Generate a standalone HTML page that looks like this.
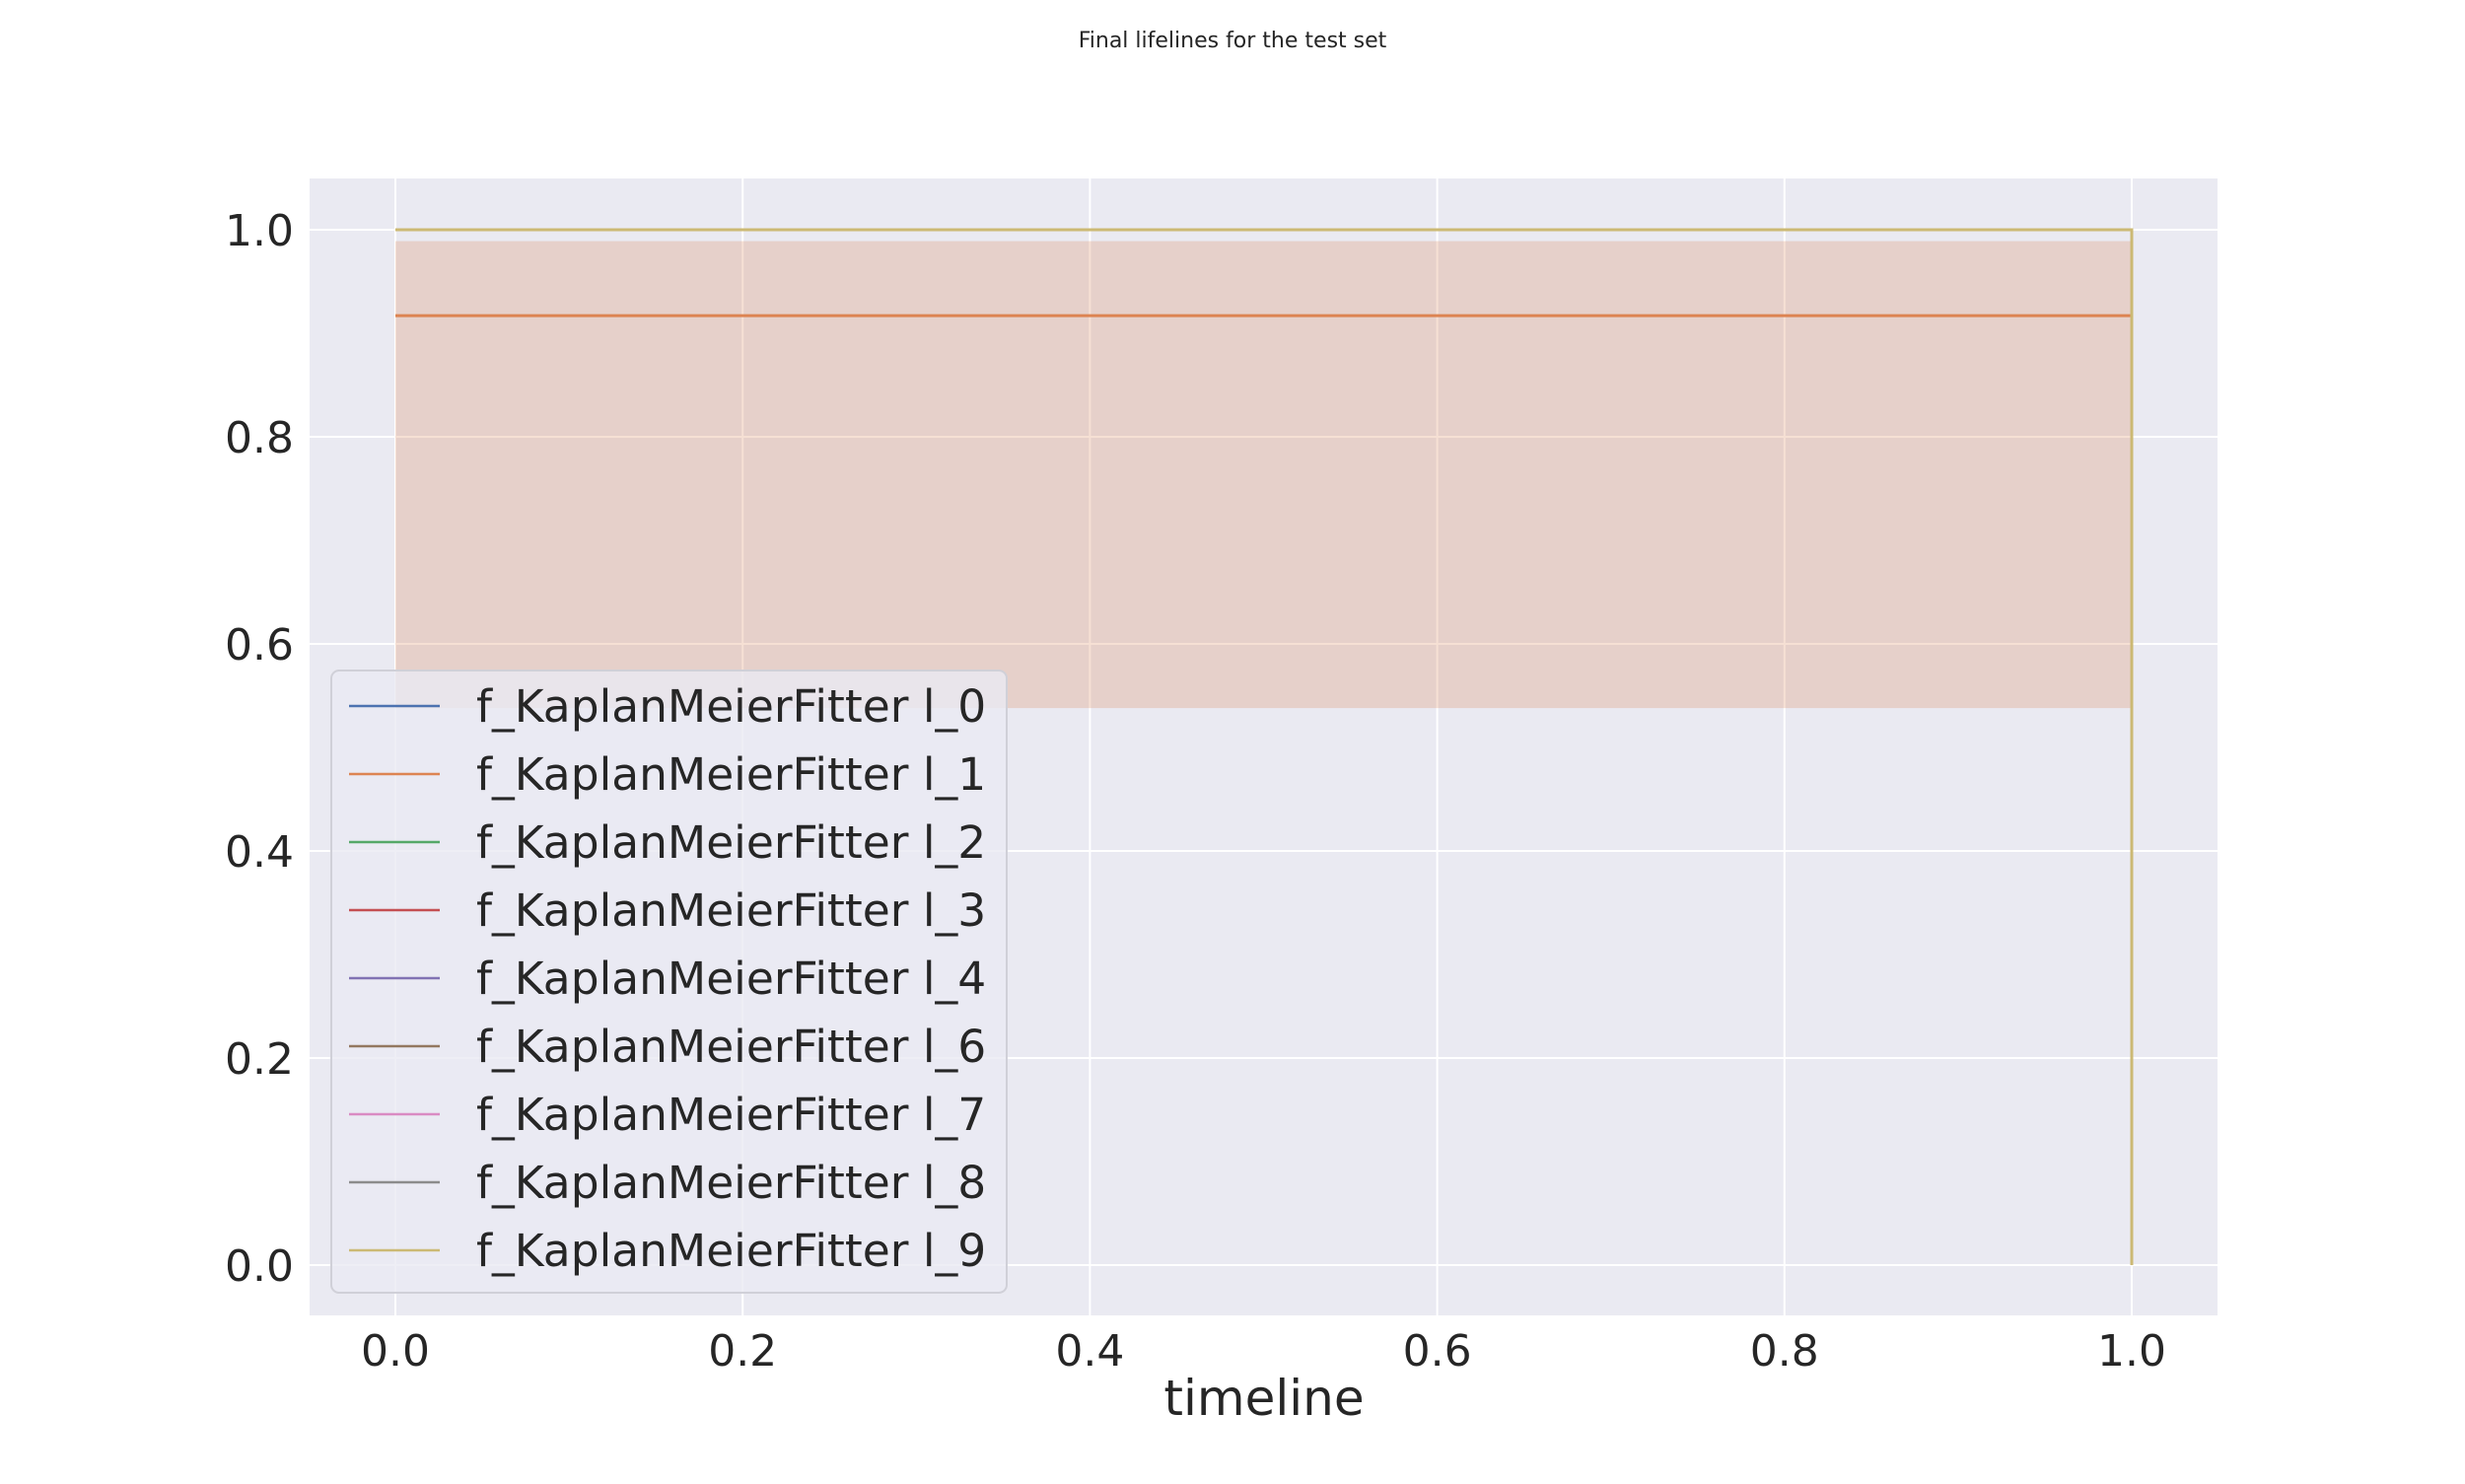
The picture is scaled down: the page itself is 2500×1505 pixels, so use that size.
<!DOCTYPE html>
<html><head><meta charset="utf-8"><style>
body{margin:0;background:#fff}
svg text{font-family:"DejaVu Sans","Liberation Sans",sans-serif;fill:#262626}
</style></head><body>
<svg id="chart" width="2500" height="1500" xmlns="http://www.w3.org/2000/svg">
<text x="1250" y="48" font-size="22" text-anchor="middle">Final lifelines for the test set</text>
<rect x="314" y="181" width="1935" height="1153" fill="#eaeaf2"/>
<g id="grid"></g><g id="marks"></g><g id="ticks"></g>
<text x="1282" y="1435" font-size="50" text-anchor="middle">timeline</text>
<g id="legend"></g>
</svg>
<script>
const xTicks=[0,0.2,0.4,0.6,0.8,1.0];
const yTicks=[0,0.2,0.4,0.6,0.8,1.0];
const seriesNames=["f_KaplanMeierFitter l_0","f_KaplanMeierFitter l_1","f_KaplanMeierFitter l_2","f_KaplanMeierFitter l_3","f_KaplanMeierFitter l_4","f_KaplanMeierFitter l_6","f_KaplanMeierFitter l_7","f_KaplanMeierFitter l_8","f_KaplanMeierFitter l_9"];
const seriesLevels=[1,0.917,1,1,1,1,1,1,1];
const seriesColors=["#4c72b0","#dd8452","#55a868","#c44e52","#8172b3","#937860","#da8bc3","#8c8c8c","#ccb974"];
const bandLower=[0.538];
const bandUpper=[0.989];
const timeStart=0, timeEnd=1;
const NS="http://www.w3.org/2000/svg";
const X=v=>401+v*1761;
const Y=v=>1283-v*1050;
function mk(tag,attrs,parent){const e=document.createElementNS(NS,tag);for(const k in attrs)e.setAttribute(k,attrs[k]);parent.appendChild(e);return e;}
const grid=document.getElementById('grid'),marks=document.getElementById('marks'),ticks=document.getElementById('ticks'),legend=document.getElementById('legend');
xTicks.forEach(t=>{
 const l=mk('line',{x1:X(t),x2:X(t),y1:181,y2:1334,stroke:'#fff','stroke-width':2},grid);
 
 
 const tx=mk('text',{x:X(t),y:1385,'font-size':44,'text-anchor':'middle'},ticks);tx.textContent=t.toFixed(1);
 
 
});
yTicks.forEach(t=>{
 const l=mk('line',{x1:314,x2:2249,y1:Y(t),y2:Y(t),stroke:'#fff','stroke-width':2},grid);
 
 
 const tx=mk('text',{x:298,y:Y(t)+16,'font-size':44,'text-anchor':'end'},ticks);tx.textContent=t.toFixed(1);
 
 
});
const band=mk('rect',{x:X(timeStart),y:Y(bandUpper[0]),width:X(timeEnd)-X(timeStart),height:Y(bandLower[0])-Y(bandUpper[0]),fill:'#dd8452','fill-opacity':0.25},marks);


seriesNames.forEach((n,i)=>{
 const v=seriesLevels[i];
 const p=mk('path',{d:`M${X(timeStart)},${Y(v)}H${X(timeEnd)}V${Y(0)}`,fill:'none',stroke:seriesColors[i],'stroke-width':3},marks);
 
 
});
const box=mk('rect',{x:336,y:680,width:685,height:631,rx:8,fill:'#eaeaf2','fill-opacity':0.8,stroke:'#d0d0d8','stroke-width':2},legend);


seriesNames.forEach((n,i)=>{
 const y=716+i*69;
 const g=mk('g',{},legend);
 
 
 mk('line',{x1:354,x2:446,y1:y,y2:y,stroke:seriesColors[i],'stroke-width':2.5},g);
 const t=mk('text',{x:483,y:y+16,'font-size':45.5},g);t.textContent=n;
});
</script>
</body></html>
